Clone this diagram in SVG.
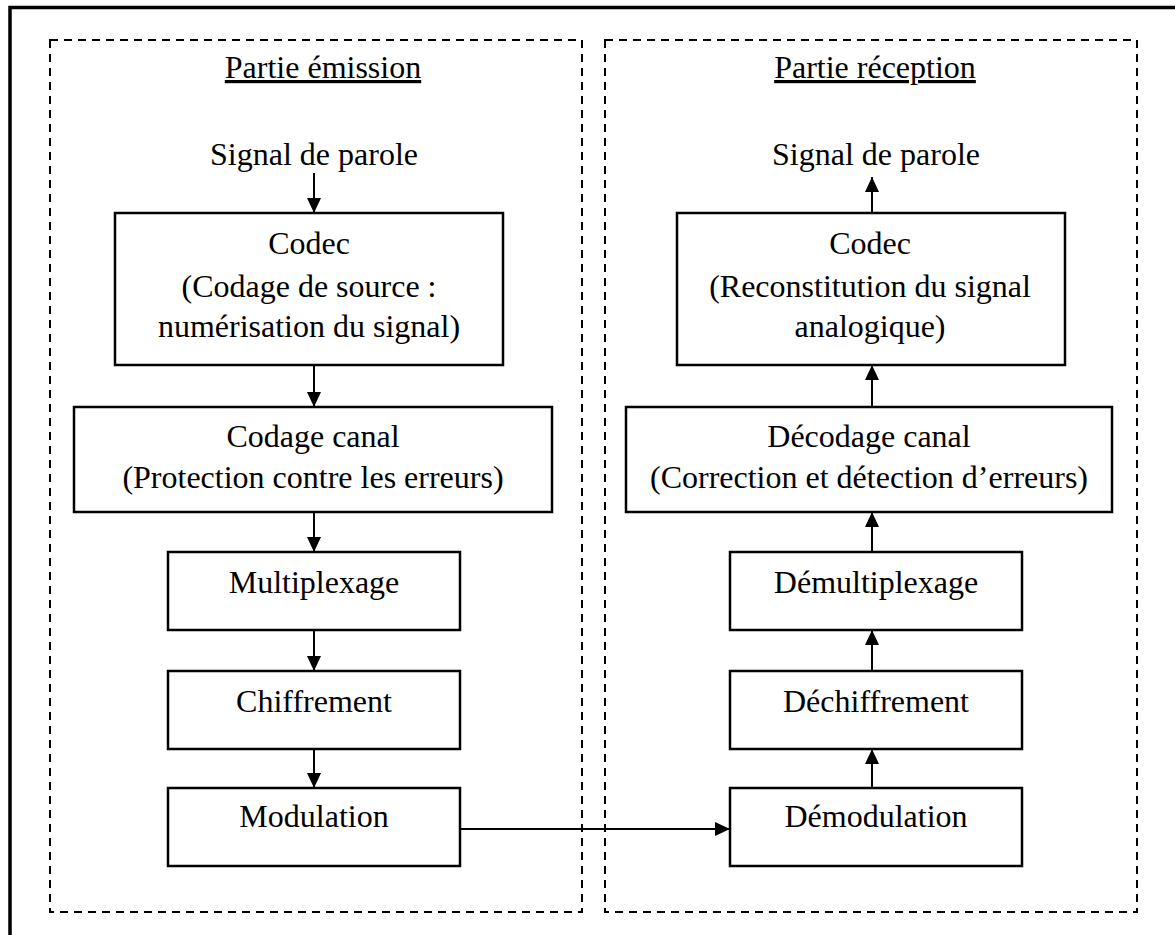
<svg xmlns="http://www.w3.org/2000/svg" width="1175" height="935" viewBox="0 0 1175 935">
  <style>
    .frame { fill: none; stroke: #000; stroke-width: 3.5; }
    .zone { fill: none; stroke: #000; stroke-width: 2; stroke-dasharray: 8 6; }
    .box { fill: #fff; stroke: #000; stroke-width: 2.5; }
    .link { fill: none; stroke: #000; stroke-width: 2; }
    text { font-family: "Liberation Serif", "Times New Roman", serif; font-size: 32px; fill: #000; text-anchor: middle; }
    .title { text-decoration: underline; }
  </style>
  <defs>
    <marker id="arrow" viewBox="0 0 15 14" refX="15" refY="7" markerWidth="15" markerHeight="14" markerUnits="userSpaceOnUse" orient="auto">
      <path d="M0,0 L15,7 L0,14 Z" fill="#000"/>
    </marker>
  </defs>

  <rect width="1175" height="935" fill="#fff"/>
  <!-- outer frame (only top and left edges fall inside the page) -->
  <rect class="frame" x="10" y="7.5" width="1300" height="1000"/>

  <!-- transmitter side -->
  <g id="zone-emission">
    <rect class="zone" x="50" y="40" width="532" height="872"/>
    <text class="title" x="323" y="78">Partie émission</text>
  </g>
  <g id="signal-in">
    <text x="314" y="165">Signal de parole</text>
  </g>
  <g id="codec-tx">
    <rect class="box" x="115" y="213" width="388" height="152"/>
    <text x="309" y="254">Codec</text>
    <text x="309" y="297">(Codage de source :</text>
    <text x="309" y="337">numérisation du signal)</text>
  </g>
  <g id="codage-canal">
    <rect class="box" x="74" y="407" width="478" height="105"/>
    <text x="313" y="447">Codage canal</text>
    <text x="313" y="488">(Protection contre les erreurs)</text>
  </g>
  <g id="multiplexage">
    <rect class="box" x="168" y="552" width="292" height="78"/>
    <text x="314" y="593">Multiplexage</text>
  </g>
  <g id="chiffrement">
    <rect class="box" x="168" y="671" width="292" height="78"/>
    <text x="314" y="712">Chiffrement</text>
  </g>
  <g id="modulation">
    <rect class="box" x="168" y="788" width="292" height="78"/>
    <text x="314" y="827">Modulation</text>
  </g>

  <!-- receiver side -->
  <g id="zone-reception">
    <rect class="zone" x="605" y="40" width="532" height="872"/>
    <text class="title" x="875" y="78">Partie réception</text>
  </g>
  <g id="signal-out">
    <text x="876" y="165">Signal de parole</text>
  </g>
  <g id="codec-rx">
    <rect class="box" x="677" y="213" width="388" height="152"/>
    <text x="870" y="254">Codec</text>
    <text x="870" y="297">(Reconstitution du signal</text>
    <text x="870" y="337">analogique)</text>
  </g>
  <g id="decodage-canal">
    <rect class="box" x="626" y="407" width="486" height="105"/>
    <text x="869" y="447">Décodage canal</text>
    <text x="869" y="488">(Correction et détection d’erreurs)</text>
  </g>
  <g id="demultiplexage">
    <rect class="box" x="730" y="552" width="292" height="78"/>
    <text x="876" y="593">Démultiplexage</text>
  </g>
  <g id="dechiffrement">
    <rect class="box" x="730" y="671" width="292" height="78"/>
    <text x="876" y="712">Déchiffrement</text>
  </g>
  <g id="demodulation">
    <rect class="box" x="730" y="788" width="292" height="78"/>
    <text x="876" y="827">Démodulation</text>
  </g>

  <!-- connectors -->
  <g id="connectors">
    <line class="link" x1="314" y1="173" x2="314" y2="213" marker-end="url(#arrow)"/>
    <line class="link" x1="314" y1="365" x2="314" y2="407" marker-end="url(#arrow)"/>
    <line class="link" x1="314" y1="512" x2="314" y2="552" marker-end="url(#arrow)"/>
    <line class="link" x1="314" y1="630" x2="314" y2="671" marker-end="url(#arrow)"/>
    <line class="link" x1="314" y1="749" x2="314" y2="788" marker-end="url(#arrow)"/>
    <line class="link" x1="460" y1="829" x2="730" y2="829" marker-end="url(#arrow)"/>
    <line class="link" x1="872" y1="788" x2="872" y2="749" marker-end="url(#arrow)"/>
    <line class="link" x1="872" y1="671" x2="872" y2="630" marker-end="url(#arrow)"/>
    <line class="link" x1="872" y1="552" x2="872" y2="512" marker-end="url(#arrow)"/>
    <line class="link" x1="872" y1="407" x2="872" y2="365" marker-end="url(#arrow)"/>
    <line class="link" x1="872" y1="213" x2="872" y2="177" marker-end="url(#arrow)"/>
  </g>
</svg>
